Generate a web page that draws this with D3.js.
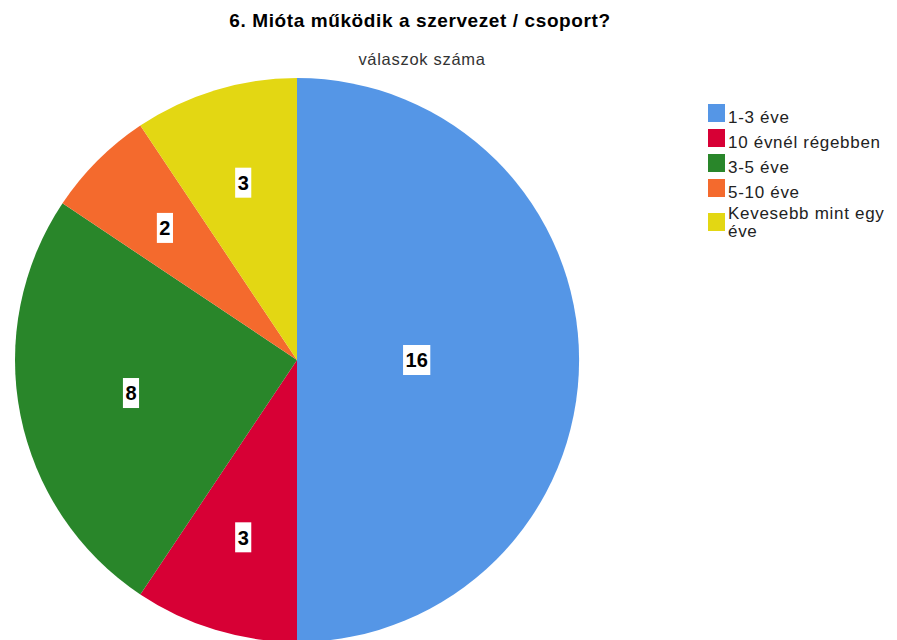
<!DOCTYPE html>
<html>
<head>
<meta charset="utf-8">
<script src="https://cdn.jsdelivr.net/npm/d3@7"></script>
<style>
  body { margin: 0; background: #fff; }
  svg { display: block; font-family: "Liberation Sans", Arial, sans-serif; }
</style>
</head>
<body>
<script>
const WIDTH = 897;
const HEIGHT = 640;

// chart data
const categories = ["1-3 éve", "10 évnél régebben", "3-5 éve", "5-10 éve", "Kevesebb mint egy éve"];
const values = [16, 3, 8, 2, 3];
const colors = ["#5596e6", "#d70035", "#29862a", "#f46a2d", "#e3d713"];
const legendLines = [["1-3 éve"], ["10 évnél régebben"], ["3-5 éve"], ["5-10 éve"], ["Kevesebb mint egy", "éve"]];

const CX = 297, CY = 360, R = 282;

var svg = d3.select("body").append("svg")
    .attr("width", WIDTH)
    .attr("height", HEIGHT);

// titles
svg.append("text")
  .attr("x", 420).attr("y", 27)
  .attr("text-anchor", "middle")
  .attr("font-size", 19).attr("font-weight", "bold")
  .attr("letter-spacing", 0.6)
  .attr("fill", "#000")
  .text("6. Mióta működik a szervezet / csoport?");

svg.append("text")
  .attr("x", 422).attr("y", 65)
  .attr("text-anchor", "middle")
  .attr("font-size", 16.5)
  .attr("letter-spacing", 0.7)
  .attr("fill", "#333")
  .text("válaszok száma");

var data = categories.map(function(c, i) { return {name: c, value: values[i], color: colors[i]}; });

var pie = d3.pie().sort(null).value(function(d) { return d.value; });
var arcs = pie(data);
var arc = d3.arc().innerRadius(0).outerRadius(R);

var g = svg.append("g").attr("transform", "translate(" + CX + "," + CY + ")");

g.selectAll("path.slice")
  .data(arcs)
  .enter().append("path")
  .attr("class", "slice")
  .attr("d", arc)
  .attr("fill", function(d) { return d.data.color; });

// labels at the area centroid of each sector
function centroid(d) {
  var half = (d.endAngle - d.startAngle) / 2;
  var mid = (d.startAngle + d.endAngle) / 2;
  var r = 2 * R * Math.sin(half) / (3 * half);
  return [r * Math.sin(mid), -r * Math.cos(mid)];
}

var labels = g.selectAll("g.label")
  .data(arcs)
  .enter().append("g")
  .attr("class", "label")
  .attr("transform", function(d) { return "translate(" + centroid(d) + ")"; });

labels.each(function(d) {
  var lg = d3.select(this);
  var rect = lg.append("rect").attr("fill", "#fff");
  var t = lg.append("text")
    .attr("text-anchor", "middle")
    .attr("dy", "0.36em")
    .attr("font-size", 20).attr("font-weight", "bold")
    .attr("fill", "#000")
    .text(d.data.value);
  var w = t.node().getBBox().width + 5;
  var h = 30;
  rect.attr("x", -w / 2).attr("y", -h / 2).attr("width", w).attr("height", h);
});

// legend
var legendTop = [104, 129, 154, 179, 213];
var legend = svg.append("g").attr("transform", "translate(708,0)");

legendLines.forEach(function(lines, i) {
  var y0 = legendTop[i];
  legend.append("rect")
    .attr("x", 0).attr("y", y0)
    .attr("width", 17).attr("height", 18)
    .attr("fill", colors[i]);
  lines.forEach(function(line, j) {
    legend.append("text")
      .attr("font-size", 17)
      .attr("letter-spacing", 0.7)
      .attr("fill", "#222")
      .attr("x", 20)
      .attr("y", (lines.length > 1 ? y0 + 6 : y0 + 19) + j * 18)
      .text(line);
  });
});
</script>
</body>
</html>
